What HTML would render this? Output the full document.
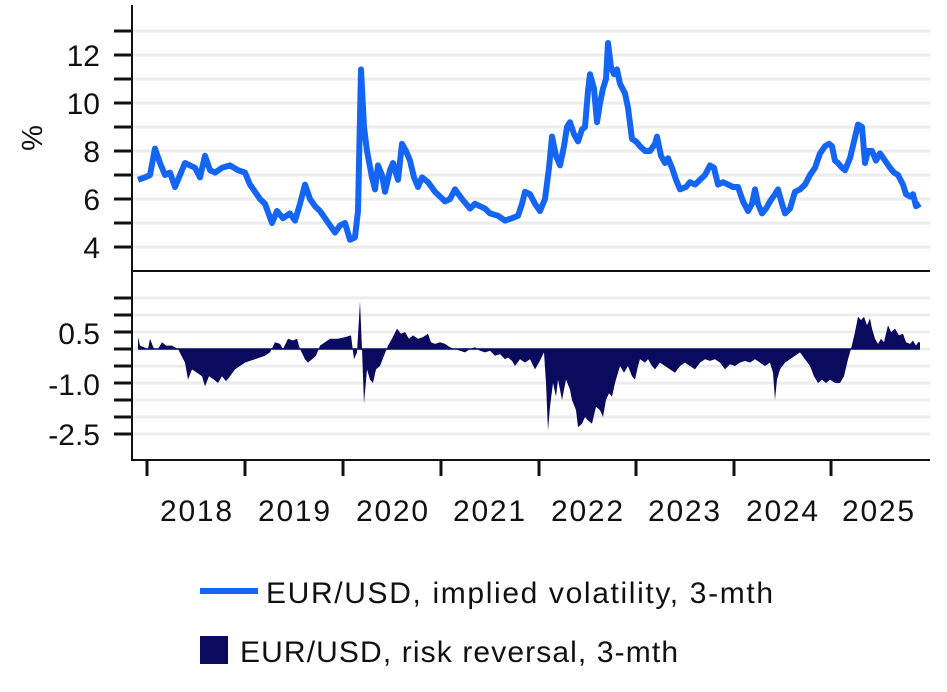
<!DOCTYPE html>
<html><head><meta charset="utf-8"><style>
body{margin:0;background:#fff;}
svg{display:block;font-family:"Liberation Sans","DejaVu Sans",sans-serif;}
</style></head><body>
<svg id="s" width="947" height="692" viewBox="0 0 947 692" xmlns="http://www.w3.org/2000/svg">
<g id="grid" stroke="#ececec" stroke-width="3"></g>
<path id="rr" fill="#0a0a5e" stroke="none"/>
<line x1="138" y1="349" x2="920" y2="349" stroke="#0a0a5e" stroke-width="1.5"/>
<polyline id="iv" fill="none" stroke="#1565f5" stroke-width="6" stroke-linejoin="round"/>
<g stroke="#111" stroke-width="2">
<line x1="132" y1="5" x2="132" y2="461"/>
<line x1="131" y1="271" x2="930" y2="271"/>
<line x1="131" y1="460" x2="930" y2="460"/>
</g>
<g id="ticks" stroke="#111" stroke-width="3"></g>
<g font-size="30" fill="#111" text-anchor="end">
<text x="100" y="66">12</text><text x="100" y="114">10</text><text x="100" y="162">8</text><text x="100" y="210">6</text><text x="100" y="258">4</text>
<text x="100" y="344">0.5</text><text x="100" y="395">-1.0</text><text x="100" y="445">-2.5</text>
</g>
<text x="42" y="138" font-size="29" fill="#111" transform="rotate(-90 42 138)" text-anchor="middle">%</text>
<g font-size="30" fill="#111" text-anchor="middle">
<text x="196" y="521" textLength="72">2018</text><text x="294" y="521" textLength="72">2019</text><text x="392" y="521" textLength="72">2020</text><text x="489" y="521" textLength="72">2021</text><text x="587" y="521" textLength="72">2022</text><text x="684" y="521" textLength="72">2023</text><text x="782" y="521" textLength="72">2024</text><text x="878" y="521" textLength="72">2025</text>
</g>
<line x1="200" y1="591" x2="258" y2="591" stroke="#1565f5" stroke-width="6"/>
<text x="266" y="603" font-size="30" fill="#111" textLength="507">EUR/USD, implied volatility, 3-mth</text>
<rect x="200" y="636" width="28" height="28" fill="#0a0a5e"/>
<text x="240" y="662" font-size="30" fill="#111" textLength="438">EUR/USD, risk reversal, 3-mth</text>
</svg>
<script>
var NS="http://www.w3.org/2000/svg";
function el(p,n,a){var e=document.createElementNS(NS,n);for(var k in a)e.setAttribute(k,a[k]);document.getElementById(p).appendChild(e);}
for(var v=4;v<=13;v++){var y=247-(v-4)*24;el("grid","line",{x1:133,x2:930,y1:y,y2:y});el("ticks","line",{x1:114,x2:132,y1:y,y2:y});}
for(var i=-5;i<=3;i++){var y=349-i*17;el("grid","line",{x1:133,x2:930,y1:y,y2:y});el("ticks","line",{x1:114,x2:132,y1:y,y2:y});}
[147,245,343,441,539,636,734,831].forEach(function(x){el("ticks","line",{x1:x,x2:x,y1:460,y2:476});});
var iv=[138,6.8,145,6.9,150,7.0,155,8.1,160,7.5,165,7.0,170,7.1,175,6.5,180,7.0,185,7.5,190,7.4,195,7.3,200,6.9,205,7.8,210,7.2,215,7.1,222,7.3,230,7.4,238,7.2,245,7.1,250,6.6,255,6.3,260,6.0,265,5.8,272,5.0,277,5.5,283,5.2,290,5.4,295,5.1,300,5.8,305,6.6,310,6.0,315,5.7,320,5.5,325,5.2,330,4.9,335,4.6,340,4.9,345,5.0,350,4.3,355,4.4,358,5.5,361,11.4,364,9.0,367,8.0,372,6.9,375,6.4,378,7.4,382,7.0,385,6.3,390,7.2,393,7.5,398,6.8,402,8.3,406,8.0,410,7.6,414,6.9,418,6.5,422,6.9,428,6.7,435,6.3,440,6.1,445,5.9,450,6.0,455,6.4,462,6.0,470,5.6,475,5.8,480,5.7,485,5.6,490,5.4,498,5.3,505,5.1,512,5.2,518,5.3,522,5.8,525,6.3,530,6.2,535,5.8,540,5.5,545,6.0,549,7.3,552,8.6,556,7.8,560,7.4,564,8.2,567,9.0,570,9.2,574,8.7,578,8.4,582,8.9,585,9.0,588,10.5,590,11.2,594,10.6,597,9.2,600,10.0,603,10.6,606,11.0,608,12.5,611,11.5,614,11.2,617,11.4,620,10.8,625,10.4,628,9.8,632,8.5,636,8.4,640,8.2,645,8.0,650,8.0,655,8.3,657,8.6,661,7.8,665,7.5,668,7.7,672,7.3,676,6.8,680,6.4,686,6.5,690,6.7,695,6.6,700,6.8,705,7.0,710,7.4,714,7.3,718,6.6,723,6.7,728,6.6,733,6.5,738,6.5,743,5.9,748,5.5,752,5.8,755,6.4,758,5.8,762,5.4,766,5.6,770,5.9,775,6.2,778,6.4,782,5.8,785,5.4,790,5.6,795,6.3,800,6.4,805,6.6,810,7.0,815,7.3,820,7.9,825,8.2,829,8.3,832,8.2,835,7.6,838,7.5,842,7.3,845,7.2,850,7.7,854,8.4,858,9.1,862,9.0,865,7.5,868,8.0,872,8.0,876,7.6,880,7.9,885,7.6,890,7.3,894,7.1,898,7.0,903,6.6,906,6.2,910,6.1,913,6.2,916,5.7,920,5.8];
var p=[];for(var i=0;i<iv.length;i+=2)p.push(iv[i]+","+(247-(iv[i+1]-4)*24).toFixed(1));
document.getElementById("iv").setAttribute("points",p.join(" "));
var rr=[138,0.35,140,0.1,148,0.0,150,0.3,154,0.0,158,0.0,162,0.2,166,0.1,172,0.1,178,0.0,185,-0.4,188,-0.9,192,-0.6,197,-0.7,202,-0.8,205,-1.1,209,-0.8,214,-0.9,218,-1.0,222,-0.8,226,-0.95,230,-0.8,235,-0.6,240,-0.5,245,-0.4,250,-0.35,255,-0.3,260,-0.25,265,-0.2,270,-0.1,275,0.2,280,0.15,283,0.0,288,0.3,293,0.25,297,0.3,300,0.0,305,-0.3,308,-0.4,312,-0.3,316,-0.2,320,0.1,325,0.2,330,0.3,338,0.3,345,0.35,351,0.4,354,-0.3,357,-0.1,360,1.4,362,0.0,364,-1.6,367,-0.6,370,-0.9,373,-1.0,376,-0.6,380,-0.5,384,-0.2,388,0.1,392,0.3,397,0.6,401,0.45,405,0.5,409,0.3,413,0.4,418,0.3,423,0.35,428,0.45,431,0.2,435,0.15,440,0.2,445,0.15,450,0.05,455,0.0,460,-0.05,465,-0.1,470,0.0,475,0.05,480,-0.05,485,-0.1,490,-0.05,495,-0.2,500,-0.15,505,-0.3,508,-0.25,512,-0.35,515,-0.5,520,-0.3,525,-0.4,530,-0.3,535,-0.6,539,-0.4,544,-0.1,546,-1.0,548,-2.4,550,-1.7,553,-1.0,556,-1.4,558,-0.9,562,-1.5,566,-0.9,570,-1.2,572,-1.5,576,-1.8,578,-2.3,582,-2.2,585,-2.0,588,-2.1,592,-2.2,596,-1.7,600,-1.8,603,-2.0,606,-1.5,609,-1.3,612,-1.4,615,-1.0,618,-0.7,620,-0.5,624,-0.7,628,-0.5,632,-0.8,635,-0.9,638,-0.5,640,-0.3,645,-0.4,648,-0.3,652,-0.5,655,-0.6,660,-0.4,665,-0.5,670,-0.6,675,-0.7,680,-0.5,685,-0.4,690,-0.5,695,-0.6,700,-0.4,705,-0.3,710,-0.35,715,-0.3,720,-0.4,725,-0.6,730,-0.45,735,-0.5,740,-0.4,745,-0.35,750,-0.4,755,-0.3,760,-0.4,765,-0.5,770,-0.4,773,-0.7,775,-1.5,777,-0.9,780,-0.6,785,-0.4,790,-0.3,795,-0.2,800,-0.1,805,-0.3,810,-0.5,814,-0.8,818,-1.0,822,-0.9,826,-1.0,830,-0.9,835,-1.0,840,-1.0,844,-0.8,848,-0.3,851,0.0,855,0.5,858,0.95,861,0.85,864,0.95,867,0.7,870,0.9,872,0.6,875,0.3,878,0.15,881,0.3,884,0.2,888,0.7,891,0.5,895,0.6,899,0.4,903,0.45,906,0.2,910,0.15,913,0.25,916,0.1,918,0.2,920,0.2];
var d="M138,349";for(var i=0;i<rr.length;i+=2)d+=" L"+rr[i]+","+(349-rr[i+1]*34).toFixed(1);d+=" L920,349 Z";
document.getElementById("rr").setAttribute("d",d);
</script>
</body></html>
